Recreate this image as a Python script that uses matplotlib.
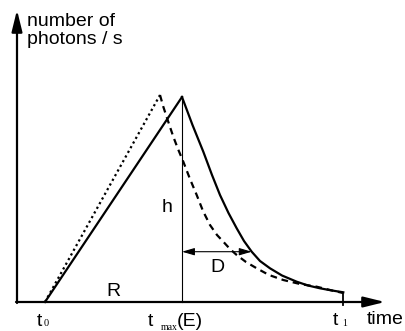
import matplotlib.pyplot as plt

# schematic values (time, photons/s), origin at the axes crossing
t0 = 28
t_max = 165
t1 = 326
peak = 205
t_dot_peak = 143
dot_peak = 207

decay_t = [165, 175.5, 186.3, 195, 203, 211.5, 219.7, 227, 234.7, 243, 253, 265, 279.7, 291, 303, 315, 326.3]
decay_y = [205, 177, 150.3, 127, 107, 89, 73.7, 61, 50.3, 41, 33.7, 26.5, 20.3, 16.5, 13.7, 11.5, 9.7]

dash_t = [143, 146.3, 151, 156.3, 161, 166.3, 173, 179.7, 186, 193, 200, 206.3, 213, 219.7, 229, 239.7, 252, 266.3, 283, 299.7, 313, 326]
dash_y = [207, 195.3, 181, 165.3, 153, 140.3, 123, 107, 91, 77, 67, 60.3, 53, 47, 40, 33.7, 27, 22, 18, 15.3, 12, 9]

d_start, d_end, d_level = 165, 234.7, 50.3

plt.rcParams['font.family'] = ['Liberation Sans', 'DejaVu Sans']

fig = plt.figure(figsize=(4.06, 3.31), dpi=100)
ax = fig.add_axes([0, 0, 1, 1])
ax.set_xlim(-17, 389)
ax.set_ylim(-29, 302)
ax.axis('off')

# axes with arrow heads
ax.annotate('', xy=(0, 292), xytext=(0, -1),
            arrowprops=dict(arrowstyle='-|>,head_length=1.3,head_width=0.32', color='black', lw=1.6,
                            shrinkA=0, shrinkB=0))
ax.annotate('', xy=(368, 0), xytext=(-1, 0),
            arrowprops=dict(arrowstyle='-|>,head_length=1.3,head_width=0.32', color='black', lw=1.6,
                            shrinkA=0, shrinkB=0))

# rise curves
ax.plot([t0, t_dot_peak], [0, dot_peak], color='black', lw=1.6, linestyle=(0, (1, 1.4)))
ax.plot([t0, t_max], [0, peak], color='black', lw=1.6, solid_joinstyle='miter')

# decays
ax.plot(decay_t, decay_y, color='black', lw=1.6)
ax.plot(dash_t, dash_y, color='black', lw=1.6, linestyle=(0, (3, 2.2)))

# vertical line at t_max
ax.plot([t_max, t_max], [0, peak], color='black', lw=0.8)

# t1 tick
ax.plot([t1, t1], [-3, 9], color='black', lw=1.3)

# D double arrow
ax.annotate('', xy=(d_end, d_level), xytext=(d_start, d_level),
            arrowprops=dict(arrowstyle='<|-|>,head_length=0.75,head_width=0.22', color='black', lw=0.8,
                            shrinkA=0, shrinkB=0))

fs = 14
ax.text(10, 275.5, 'number of', fontsize=fs, va='baseline', ha='left')
ax.text(10, 258, 'photons / s', fontsize=fs, va='baseline', ha='left')
ax.text(150, 94, 'h', fontsize=fs, va='center', ha='center')
ax.text(200, 35, 'D', fontsize=fs, va='center', ha='center')
ax.text(96, 11, 'R', fontsize=fs, va='center', ha='center')

ax.text(20, -24.5, 't', fontsize=fs, va='baseline', ha='left')
ax.text(27, -24.5, '0', fontsize=7.5, va='baseline', ha='left', family='Liberation Serif')
ax.text(131, -24.5, 't', fontsize=fs, va='baseline', ha='left')
ax.text(144, -28, 'max', fontsize=7, va='baseline', ha='left', family='Liberation Serif')
ax.text(160, -24.5, '(E)', fontsize=fs, va='baseline', ha='left')
ax.text(316, -23, 't', fontsize=fs, va='baseline', ha='left')
ax.text(325, -24, '1', fontsize=7, va='baseline', ha='left', family='Liberation Serif')
ax.text(350, -22, 'time', fontsize=fs, va='baseline', ha='left')

fig.savefig('out.png', dpi=100)
